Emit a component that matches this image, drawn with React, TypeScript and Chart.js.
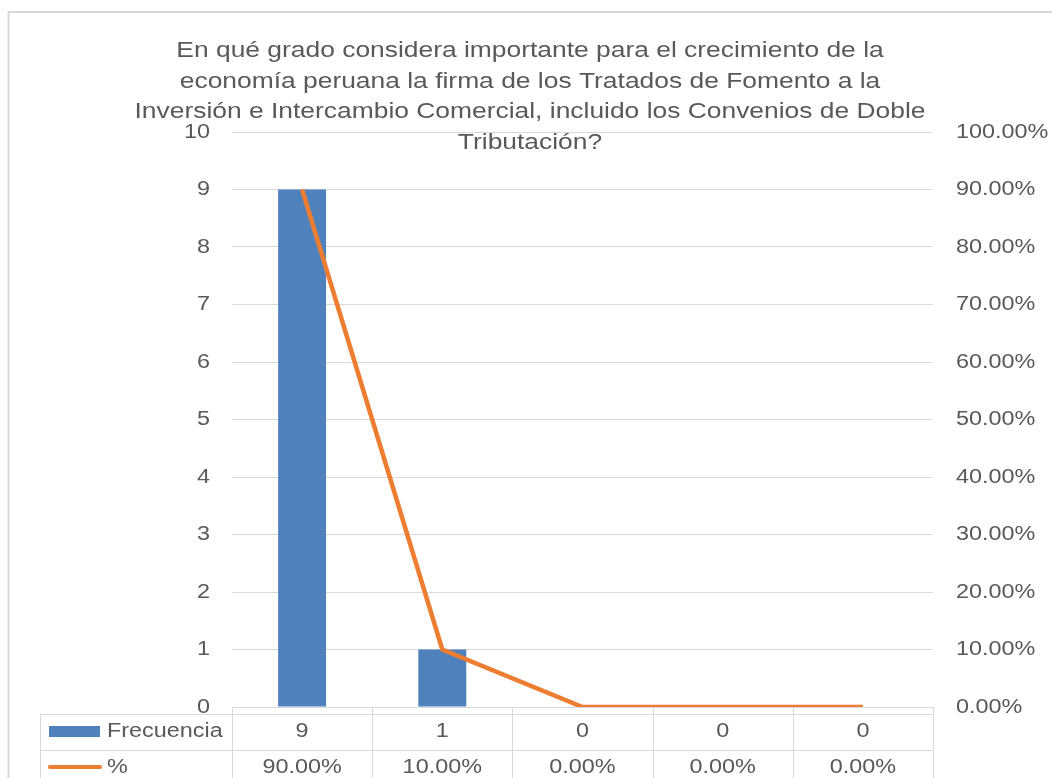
import React, { useEffect, useRef } from 'react';
import { Chart, registerables } from 'chart.js';

Chart.register(...registerables);

// ---- data ----
const categories: string[] = ['', '', '', '', ''];
const frecuencia: number[] = [9, 1, 0, 0, 0];
const porcentaje: number[] = [90, 10, 0, 0, 0];
const seriesNames: string[] = ['Frecuencia', '%'];
const titleLines: string[] = [
  'En qué grado considera importante para el crecimiento de la',
  'economía peruana la firma de los Tratados de Fomento a la',
  'Inversión e Intercambio Comercial, incluido los Convenios de Doble',
  'Tributación?',
];
const leftMax = 10;
const rightMax = 100;

const FONT = "'Liberation Sans', Arial, sans-serif";
const TEXT = '#595959';
const GRID = '#d9d9d9';
const BLUE = '#4f81bd';
const ORANGE = '#ed7d31';
const SX = 1.17; // horizontal stretch of the reference's lettering
const SX_TITLE = 1.2;

const fmtPct = (v: number) => v.toFixed(2) + '%';

function stretchText(
  ctx: CanvasRenderingContext2D,
  text: string,
  x: number,
  y: number,
  align: CanvasTextAlign,
  sx: number
) {
  ctx.save();
  ctx.translate(x, y);
  ctx.scale(sx, 1);
  ctx.textAlign = align;
  ctx.fillText(text, 0, 0);
  ctx.restore();
}

const decor = {
  id: 'decor',
  afterDraw(chart: any) {
    const ctx: CanvasRenderingContext2D = chart.ctx;
    const area = chart.chartArea;
    const xs = chart.scales.x;
    const yl = chart.scales.y;
    const yr = chart.scales.y1;
    const n = categories.length;
    const w = (area.right - area.left) / n;
    ctx.save();

    // outer chart border
    ctx.strokeStyle = GRID;
    ctx.lineWidth = 2;
    ctx.beginPath();
    ctx.moveTo(8.5, 800);
    ctx.lineTo(8.5, 12);
    ctx.lineTo(1060, 12);
    ctx.stroke();

    // axis tick labels (from the scales' own ticks)
    ctx.font = `20px ${FONT}`;
    ctx.fillStyle = TEXT;
    ctx.textBaseline = 'middle';
    yl.ticks.forEach((t: any) => {
      stretchText(ctx, String(t.value), area.left - 22, yl.getPixelForValue(t.value), 'right', SX);
    });
    yr.ticks.forEach((t: any) => {
      stretchText(ctx, fmtPct(Number(t.value)), area.right + 23, yr.getPixelForValue(t.value), 'left', SX);
    });

    // data table
    const tableLeft = 40;
    const tableTop = area.bottom + 7;
    const rowH = 36;
    ctx.strokeStyle = GRID;
    ctx.lineWidth = 1;
    ctx.beginPath();
    for (let r = 0; r <= 2; r++) {
      const y = Math.round(tableTop + r * rowH) + 0.5;
      ctx.moveTo(tableLeft, y);
      ctx.lineTo(area.right, y);
    }
    ctx.moveTo(tableLeft + 0.5, tableTop);
    ctx.lineTo(tableLeft + 0.5, tableTop + 2 * rowH);
    for (let i = 0; i <= n; i++) {
      const x = Math.round(area.left + i * w) + 0.5;
      ctx.moveTo(x, area.bottom);
      ctx.lineTo(x, tableTop + 2 * rowH);
    }
    ctx.stroke();

    ctx.font = `20px ${FONT}`;
    ctx.fillStyle = TEXT;
    ctx.textBaseline = 'middle';
    const y1 = tableTop + rowH / 2 - 1;
    const y2 = tableTop + rowH * 1.5 - 1;
    for (let i = 0; i < n; i++) {
      const cx = xs.getPixelForValue(i);
      stretchText(ctx, String(frecuencia[i]), cx, y1, 'center', SX);
      stretchText(ctx, fmtPct(porcentaje[i]), cx, y2, 'center', SX);
    }
    // legend keys
    ctx.fillStyle = BLUE;
    ctx.fillRect(49, y1 - 5, 51, 11);
    ctx.strokeStyle = ORANGE;
    ctx.lineWidth = 4;
    ctx.lineCap = 'round';
    ctx.beginPath();
    ctx.moveTo(50, y2);
    ctx.lineTo(100, y2);
    ctx.stroke();
    ctx.fillStyle = TEXT;
    stretchText(ctx, seriesNames[0], 107, y1, 'left', SX);
    stretchText(ctx, seriesNames[1], 107, y2, 'left', SX);

    // title (overlaps plot, drawn on top)
    ctx.font = `22px ${FONT}`;
    ctx.textBaseline = 'alphabetic';
    ctx.fillStyle = TEXT;
    titleLines.forEach((t, i) => {
      stretchText(ctx, t, 530, 57 + i * 30.5, 'center', SX_TITLE);
    });
    ctx.restore();
  },
};

export default function App() {
  const ref = useRef<HTMLCanvasElement | null>(null);
  useEffect(() => {
    if (!ref.current) return;
    const chart = new Chart(ref.current, {
      type: 'bar',
      data: {
        labels: categories,
        datasets: [
          {
            type: 'line',
            label: seriesNames[1],
            data: porcentaje,
            yAxisID: 'y1',
            borderColor: ORANGE,
            backgroundColor: ORANGE,
            borderWidth: 4.5,
            pointRadius: 0,
            tension: 0,
            order: 0,
          } as any,
          {
            type: 'bar',
            label: seriesNames[0],
            data: frecuencia,
            yAxisID: 'y',
            backgroundColor: BLUE,
            categoryPercentage: 1,
            barPercentage: 0.342,
            order: 1,
          },
        ],
      },
      options: {
        responsive: false,
        animation: false,
        layout: { padding: { top: 132, left: 0, right: 0, bottom: 0 } },
        plugins: {
          legend: { display: false },
          title: { display: false },
          tooltip: { enabled: false },
        },
        scales: {
          x: {
            offset: true,
            ticks: { display: false },
            grid: { display: false },
            border: { display: true, color: GRID, width: 1 },
            afterFit: (s: any) => {
              s.height = 71;
            },
          },
          y: {
            position: 'left',
            min: 0,
            max: leftMax,
            ticks: { stepSize: 1, display: false },
            grid: { color: GRID, drawTicks: false, lineWidth: 1 },
            border: { display: false },
            afterFit: (s: any) => {
              s.width = 232;
            },
          },
          y1: {
            position: 'right',
            min: 0,
            max: rightMax,
            ticks: { stepSize: 10, display: false },
            grid: { display: false, drawTicks: false },
            border: { display: false },
            afterFit: (s: any) => {
              s.width = 119;
            },
          },
        },
      },
      plugins: [decor],
    });
    return () => chart.destroy();
  }, []);
  return (
    <div style={{ position: 'absolute', left: 0, top: 0, width: 1052, height: 778, background: '#fff' }}>
      <canvas ref={ref} width={1052} height={778} style={{ display: 'block' }} />
    </div>
  );
}
